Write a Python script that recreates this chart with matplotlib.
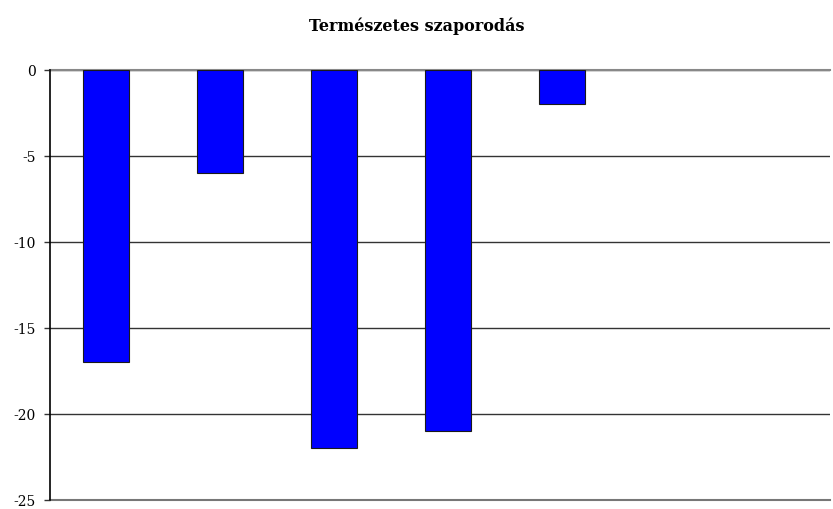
import matplotlib
matplotlib.use("Agg")
import matplotlib.pyplot as plt

# data
categories = ["1", "2", "3", "4", "5"]
values = [-17, -6, -22, -21, -2]
yticks = [0, -5, -10, -15, -20, -25]

W, H = 833, 509
fig = plt.figure(figsize=(W / 100, H / 100), dpi=100)
ax = fig.add_axes([50 / W, 1 - 500 / H, 780 / W, 430 / H])

x = list(range(len(categories)))
ax.bar(x, values, width=0.40, color="#0000ff", edgecolor="#1a1a1a", linewidth=0.8, zorder=3)

ax.set_ylim(-25, 0)
ax.set_xlim(-0.491, 6.35)
ax.set_yticks(yticks)
ax.set_yticklabels([str(t) for t in yticks], fontsize=10, family="DejaVu Serif")
ax.set_xticks([])
ax.yaxis.grid(True, color="#333333", linewidth=1.0, zorder=0)
ax.tick_params(axis="y", length=4, width=1, color="#333333", pad=6)

for side in ["top", "right", "bottom"]:
    ax.spines[side].set_visible(False)
ax.spines["left"].set_color("black")
ax.spines["left"].set_linewidth(1.2)
ax.axhline(0, color="#888888", linewidth=1.5, zorder=2, clip_on=False)
ax.axhline(-25, color="#777777", linewidth=1.5, zorder=2, clip_on=False)

fig.text(0.5, 1 - 26 / H, "Természetes szaporodás", ha="center", va="center",
         fontsize=11.5, fontweight="bold", family="DejaVu Serif")

fig.savefig("out.png", dpi=100)
